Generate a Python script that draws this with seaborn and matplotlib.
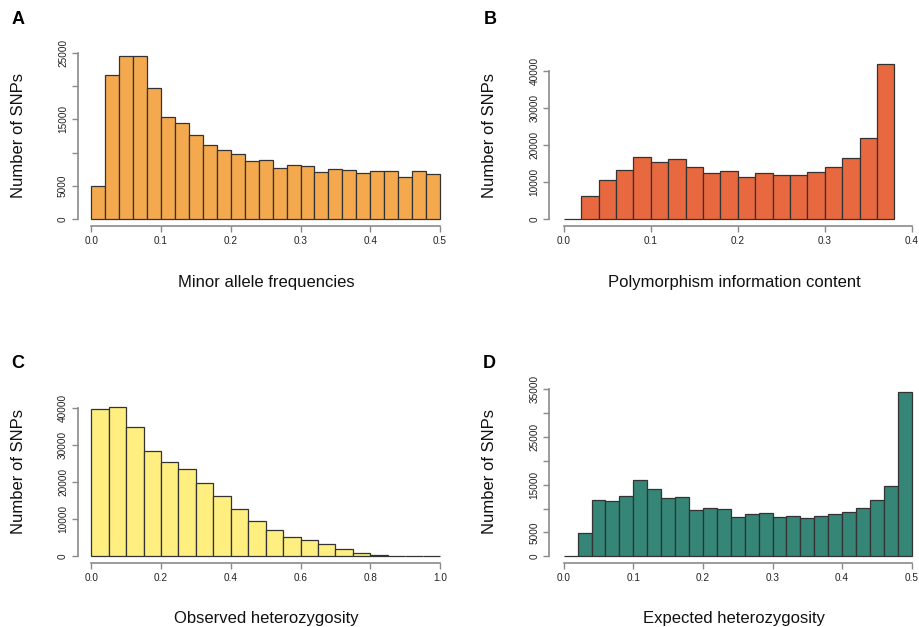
import numpy as np
import pandas as pd
import matplotlib
matplotlib.use("Agg")
import matplotlib.pyplot as plt
import seaborn as sns

# ---------------- data (counts per bin) ----------------
maf_edges = [round(0.02 * k, 3) for k in range(26)]
maf_counts = [5000, 21650, 24500, 24500, 19750, 15300, 14400, 12600, 11100, 10450,
              9750, 8750, 8850, 7650, 8150, 7950, 7050, 7550, 7400, 6900,
              7200, 7200, 6350, 7200, 6750]

pic_edges = [round(0.02 * k, 3) for k in range(20)]
pic_counts = [200, 6200, 10550, 13250, 16950, 15400, 16300, 14050, 12450, 13050,
              11450, 12450, 12100, 12100, 12700, 14050, 16600, 22100, 42000]

ho_edges = [round(0.05 * k, 3) for k in range(21)]
ho_counts = [39700, 40350, 34850, 28400, 25600, 23500, 19700, 16300, 12900, 9650,
             7000, 5150, 4300, 3250, 1900, 900, 270, 150, 80, 50]

he_edges = [round(0.02 * k, 3) for k in range(26)]
he_counts = [100, 4900, 11750, 11500, 12550, 15900, 14050, 12150, 12350, 9700,
             10050, 9850, 8200, 8850, 9000, 8200, 8400, 8000, 8500, 8850,
             9200, 10150, 11800, 14750, 34450]

letters = ["A", "B", "C", "D"]
xlabels = ["Minor allele frequencies", "Polymorphism information content",
           "Observed heterozygosity", "Expected heterozygosity"]
colors = ["#F5A94F", "#E8683F", "#FFEE80", "#358677"]

xticks_list = [[0.0, 0.1, 0.2, 0.3, 0.4, 0.5],
               [0.0, 0.1, 0.2, 0.3, 0.4],
               [0.0, 0.2, 0.4, 0.6, 0.8, 1.0],
               [0.0, 0.1, 0.2, 0.3, 0.4, 0.5]]
yticks_list = [[0, 5000, 10000, 15000, 20000, 25000],
               [0, 10000, 20000, 30000, 40000],
               [0, 10000, 20000, 30000, 40000],
               [0, 5000, 10000, 15000, 20000, 25000, 30000, 35000]]
ytick_labels = [["0", "5000", "", "15000", "", "25000"],
                ["0", "10000", "20000", "30000", "40000"],
                ["0", "10000", "20000", "30000", "40000"],
                ["0", "5000", "", "15000", "", "25000", "", "35000"]]

panels = [(maf_edges, maf_counts), (pic_edges, pic_counts),
          (ho_edges, ho_counts), (he_edges, he_counts)]

# ---------------- layout (pixel geometry) ----------------
W, H = 919, 627
sns.set_style("white")
plt.rcParams["font.family"] = ["Liberation Sans", "DejaVu Sans"]

fig = plt.figure(figsize=(W / 100, H / 100), dpi=100)

# (x-pixel of 0, x-pixel of xref, xref, y-pixel of 0, y-pixel of yref, yref,
#  left-axis pixel, bottom-axis pixel, right pixel, top pixel)
geo = [
    (91.3, 440.0, 0.5, 219.3, 52.7, 25000, 77.7, 226.0, 454.0, 49.5),
    (563.7, 911.7, 0.4, 219.3, 71.3, 40000, 549.3, 226.0, 919.0, 57.7),
    (91.3, 440.0, 1.0, 556.3, 408.3, 40000, 77.7, 562.7, 454.0, 401.0),
    (563.7, 911.7, 0.5, 556.3, 389.3, 35000, 549.3, 562.7, 919.0, 385.4),
]
letter_pos = [(18, 19.5), (490, 19.5), (18, 364), (489, 364)]
ylab_pos = [(19, 135.5), (490, 135.5), (19, 472), (490, 472)]
xlab_y = [282, 282, 618, 618]

axis_col = "#8a8a8a"

for i, ((edges, counts), g) in enumerate(zip(panels, geo)):
    x0, x1, xr, y0, y1, yr, lp, bp, rp, tp = g
    ax = fig.add_axes([lp / W, 1 - bp / H, (rp - lp) / W, (bp - tp) / H])
    xppu = (x1 - x0) / xr
    yppu = (y0 - y1) / yr
    xlim = ((lp - x0) / xppu, (rp - x0) / xppu)
    ylim = (-(bp - y0) / yppu, (y0 - tp) / yppu)

    e = np.asarray(edges, dtype=float)
    centers = (e[:-1] + e[1:]) / 2
    df = pd.DataFrame({"x": centers, "n": np.asarray(counts, dtype=float)})
    sns.histplot(data=df, x="x", weights="n", bins=list(edges), ax=ax,
                 color=colors[i], alpha=1, edgecolor="#333333", linewidth=0.9)

    ax.set_xlim(*xlim)
    ax.set_ylim(*ylim)
    ax.set_xticks(xticks_list[i])
    ax.set_xticklabels([f"{v:.1f}" for v in xticks_list[i]])
    ax.set_yticks(yticks_list[i])
    ax.set_yticklabels(ytick_labels[i], rotation=90, va="center")
    ax.tick_params(axis="both", which="major", bottom=True, left=True,
                   direction="out", length=4, width=1,
                   color=axis_col, labelsize=7.2, labelcolor="#222222")
    ax.tick_params(axis="x", pad=3.5)
    ax.tick_params(axis="y", pad=3)

    for s in ["top", "right"]:
        ax.spines[s].set_visible(False)
    ax.spines["left"].set_bounds(yticks_list[i][0], yticks_list[i][-1])
    ax.spines["bottom"].set_bounds(xticks_list[i][0], xticks_list[i][-1])
    for s in ["left", "bottom"]:
        ax.spines[s].set_color(axis_col)
        ax.spines[s].set_linewidth(1.2)
    ax.patch.set_alpha(0)

    ax.set_xlabel("")
    ax.set_ylabel("")
    fig.text(((lp + rp) / 2) / W, 1 - xlab_y[i] / H, xlabels[i],
             ha="center", va="center", fontsize=12, color="#111111")
    fig.text(ylab_pos[i][0] / W, 1 - ylab_pos[i][1] / H, "Number of SNPs",
             ha="center", va="center", rotation=90, fontsize=12, color="#111111")
    fig.text(letter_pos[i][0] / W, 1 - letter_pos[i][1] / H, letters[i],
             ha="center", va="center", fontsize=13, fontweight="bold",
             color="#000000")

fig.savefig("out.png", dpi=100, facecolor="white")
